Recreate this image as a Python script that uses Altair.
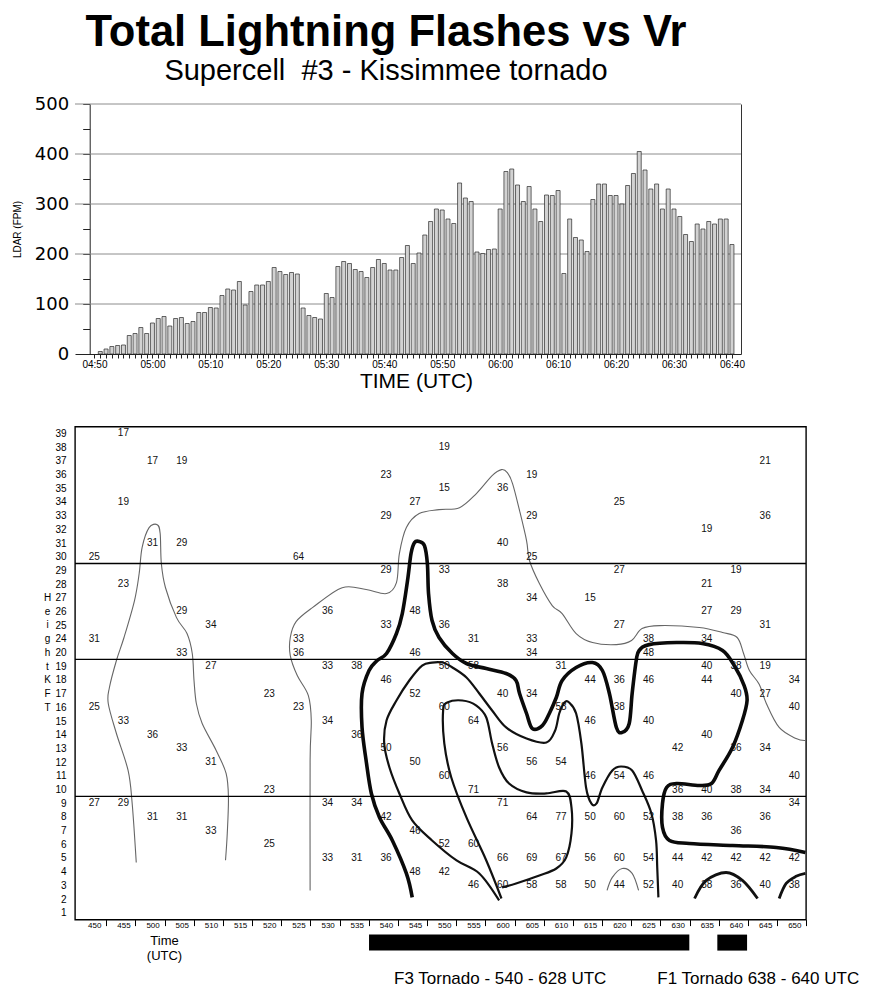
import altair as alt
import pandas as pd

TITLE = "Total Lightning Flashes vs Vr"
SUBTITLE = "Supercell\u00a0 #3 - Kissimmee tornado"

# ---------------- top panel: LDAR flash rate, one bar per minute ----------------
LDAR_FIRST_MINUTE = 4 * 60 + 51          # 04:51
LDAR_FPM = [5, 10, 15, 17, 18, 37, 41, 53, 41,
            62, 71, 75, 56, 71, 73, 61, 65, 83, 83,
            93, 92, 117, 130, 128, 145, 98, 125, 138, 138,
            145, 173, 165, 159, 163, 160, 92, 77, 73, 70,
            121, 113, 175, 185, 181, 169, 165, 153, 173, 189,
            181, 168, 168, 193, 217, 181, 202, 238, 265, 290,
            288, 270, 261, 342, 312, 305, 204, 201, 209, 210,
            290, 365, 370, 338, 305, 335, 290, 265, 318, 317,
            327, 161, 270, 233, 228, 205, 309, 340, 340, 317,
            317, 300, 337, 361, 405, 368, 330, 340, 290, 330,
            290, 275, 239, 225, 260, 250, 265, 260, 270, 270,
            219]
FPM_GRID = [100, 200, 300, 400, 500]

# ---------------- bottom panel: Vr time-height section ----------------
ROW_LABELS = list(range(1, 21)) + list(range(24, 40))      # printed height rows (kft)
DECADE_BREAKS = [(9, 10), (19, 20), (29, 30)]

VR_COLUMN_TIMES = [450, 455, 500, 505, 510, 520, 525, 530, 535, 540, 545, 550,
                   555, 600, 605, 610, 615, 620, 625, 630, 635, 640, 645, 650]
VR_COLUMN_HEIGHTS = [
    [30, 24, 16, 9], [39, 34, 28, 15, 9], [37, 31, 14, 8], [37, 31, 26, 20, 13, 8],
    [25, 19, 12, 7], [17, 10, 6], [30, 24, 20, 16], [26, 19, 15, 9, 5], [19, 14, 9, 5],
    [36, 33, 29, 25, 18, 13, 8, 5], [34, 26, 20, 17, 12, 7, 4],
    [38, 35, 29, 25, 19, 16, 11, 6, 4], [24, 19, 15, 10, 6, 3],
    [35, 31, 28, 17, 13, 9, 5, 3], [36, 33, 30, 27, 24, 20, 17, 12, 8, 5, 3],
    [19, 16, 12, 8, 5, 3], [27, 18, 15, 11, 8, 5, 3], [34, 29, 25, 18, 16, 11, 8, 5, 3],
    [24, 20, 18, 15, 11, 8, 5, 3], [13, 10, 8, 5, 3],
    [32, 28, 26, 24, 19, 18, 14, 10, 8, 5, 3], [29, 26, 19, 17, 13, 10, 7, 5, 3],
    [37, 33, 25, 19, 17, 13, 10, 8, 5, 3], [18, 16, 11, 9, 5, 3]]
VR_COLUMN_VALUES = [
    [25, 31, 25, 27], [17, 19, 23, 33, 29], [17, 31, 36, 31], [19, 29, 29, 33, 33, 31],
    [34, 27, 31, 33], [23, 23, 25], [64, 33, 36, 23], [36, 33, 34, 34, 33], [38, 36, 34, 31],
    [23, 29, 29, 33, 46, 50, 42, 36], [27, 48, 46, 52, 50, 46, 48],
    [19, 15, 33, 36, 50, 60, 60, 52, 42], [31, 58, 64, 71, 60, 46],
    [36, 40, 38, 40, 56, 71, 66, 60], [19, 29, 25, 34, 33, 34, 34, 56, 64, 69, 58],
    [31, 58, 54, 77, 67, 58], [15, 44, 46, 46, 50, 56, 50], [25, 27, 27, 36, 38, 54, 60, 60, 44],
    [38, 48, 46, 40, 46, 52, 54, 52], [42, 36, 38, 44, 40],
    [19, 21, 27, 34, 40, 44, 40, 40, 36, 42, 38], [19, 29, 38, 40, 36, 38, 36, 42, 36],
    [21, 36, 31, 19, 27, 34, 34, 36, 42, 40], [34, 40, 40, 34, 42, 38]]

# contour traces: time in minutes after 00 UTC, height in row position (1 = bottom row)
THIN_A_T = [297.2, 296.5, 295.8, 293.8, 292.4, 292.6, 293.8, 295.1, 296.9, 297.7, 298.2, 299.4, 300.8, 301.3,
            301.5, 302.2, 304.1, 305.9, 306.8, 307.1, 307.5, 308.5, 310.9, 312.6, 313.0, 312.8, 312.5]
THIN_A_P = [4.67, 8.98, 11.39, 14.09, 16.28, 17.45, 19.42, 21.1, 23.8, 25.77, 27.67, 29.12, 29.34, 28.69,
            26.5, 24.75, 22.55, 21.39, 19.93, 17.96, 16.28, 14.82, 12.85, 11.17, 9.42, 6.8, 4.83]
THIN_B_T = [327.0, 327.0, 327.2, 326.7, 324.8, 323.6, 323.6, 324.6, 327.4, 332.5, 336.6, 340.1, 341.8, 342.3,
            343.5, 345.7, 349.1, 352.6, 355.5, 358.2, 359.8, 360.8, 361.7, 362.9, 364.1, 364.6, 366.3, 368.5,
            370.2, 372.6, 375.4, 379.5, 382.1, 383.9, 386.9, 393.7, 397.7, 400.2, 401.3, 402.3, 404.0, 405.2,
            407.4, 410.3, 411.9]
THIN_B_P = [2.63, 12.12, 15.04, 16.86, 18.32, 19.78, 21.1, 22.26, 23.28, 24.74, 24.6, 24.31, 25.11, 27.23,
            29.13, 30.15, 30.44, 30.58, 31.61, 32.92, 33.36, 33.14, 32.34, 30.37, 28.18, 26.72, 25.04, 23.43,
            22.85, 21.39, 20.73, 20.58, 20.88, 21.75, 21.97, 21.83, 21.46, 21.1, 19.93, 18.69, 17.67, 16.28,
            14.53, 13.72, 13.58]
THIN_F_T = [377.9, 378.8, 380.5, 382.2, 383.3]
THIN_F_P = [2.63, 3.58, 4.23, 3.87, 2.63]
THICK_C_T = [344.5, 343.5, 341.1, 338.9, 337.5, 336.6, 335.9, 335.9, 337.1, 338.5, 340.1, 341.8, 342.8, 343.7,
             344.3, 344.9, 345.7, 346.6, 347.1, 347.3, 347.9, 349.1, 351.4, 353.8, 357.2, 360.6, 362.3, 362.9,
             364.1, 365.1, 366.8, 368.0, 369.2, 370.2, 372.6, 375.4, 377.1, 378.3, 379.5, 380.5, 381.7, 382.2,
             382.9, 383.4, 385.1, 389.8, 394.2, 397.7, 399.7, 401.4, 401.9, 401.1, 399.4, 397.1, 395.8, 393.7,
             389.8, 388.1, 387.4, 387.4, 388.6, 392.0, 399.4, 406.9, 411.9]
THICK_C_P = [2.12, 3.87, 6.28, 7.96, 9.71, 12.12, 14.53, 17.01, 18.69, 19.42, 19.93, 21.39, 22.85, 25.26,
             27.23, 28.03, 28.11, 27.81, 26.5, 24.31, 22.34, 21.1, 19.93, 19.2, 18.83, 18.47, 17.96, 17.01,
             15.55, 14.45, 14.67, 15.55, 16.72, 17.96, 18.91, 19.27, 18.69, 17.01, 14.53, 14.17, 14.82, 17.01,
             19.42, 20.15, 20.58, 20.73, 20.66, 20.15, 19.05, 17.59, 16.5, 15.04, 13.07, 11.39, 10.44, 10.29,
             10.44, 10.15, 8.98, 7.23, 6.28, 6.06, 5.91, 5.77, 5.4]
MID_D_T = [359.4, 356.0, 352.1, 347.9, 344.5, 342.3, 340.6, 339.7, 340.1, 341.8, 344.0, 346.2, 347.9, 349.7,
           351.4, 353.8, 356.0, 358.2, 360.6, 364.1, 367.5, 369.0, 369.7, 370.6, 371.4, 372.6, 373.5, 374.3,
           375.2, 376.1, 377.1, 378.8, 380.3, 382.2, 383.9, 385.5, 386.3, 386.5, 386.7]
MID_D_P = [1.9, 3.87, 4.82, 6.28, 7.74, 9.71, 11.61, 13.36, 15.04, 16.5, 17.96, 19.05, 19.27, 19.27,
           18.91, 18.18, 17.01, 15.77, 14.53, 13.72, 13.43, 14.31, 15.55, 16.35, 16.35, 15.55, 13.36, 10.15,
           8.98, 8.98, 10.15, 11.39, 11.68, 11.39, 9.93, 8.25, 6.28, 4.31, 2.12]
MID_E_T = [359.8, 357.2, 353.8, 351.2, 350.0, 349.8, 350.5, 353.1, 355.5, 357.2, 358.2, 359.4, 361.1, 364.1,
           367.5, 370.9, 371.8, 371.8, 370.9, 369.2, 366.3, 362.3, 359.9]
MID_E_P = [2.04, 4.82, 7.96, 10.88, 13.36, 15.77, 16.35, 16.5, 16.13, 15.26, 13.36, 11.61, 10.44, 9.79,
           9.71, 9.86, 8.69, 6.79, 5.04, 4.23, 3.72, 3.14, 2.85]
ARC_G_T = [392.9, 394.9, 398.3, 401.1, 403.7]
ARC_G_P = [2.04, 3.36, 3.94, 3.36, 2.04]
ARC_H_T = [407.4, 408.6, 410.3, 411.9]
ARC_H_P = [2.04, 3.14, 3.66, 3.88]

TORNADO_LABELS = ["F3 Tornado - 540 - 628 UTC", "F1 Tornado 638 - 640 UTC"]
TORNADO_START = [337.1, 396.8]
TORNADO_END = [392.0, 401.9]

HEIGHT_TITLE = ["H", "e", "i", "g", "h", "t", " ", "K", "F", "T"]

FONT = "Liberation Sans"

# ---------------- build top panel ----------------
top_df = pd.DataFrame({"t": [LDAR_FIRST_MINUTE + i for i in range(len(LDAR_FPM))], "fpm": LDAR_FPM})
x_top = alt.Scale(domain=[287.5, 400.7], nice=False, zero=False)
y_top = alt.Scale(domain=[0, 500], nice=False)
hhmm = ("datum.value % 10 == 0 ? ('0' + floor(datum.value/60) + ':' + "
        "(datum.value % 60 < 10 ? '0' : '') + (datum.value % 60)) : ''")

bars = alt.Chart(top_df).mark_bar(size=4, fill="#d2d2d2", stroke="#2a2a2a", strokeWidth=0.7).encode(
    x=alt.X("t:Q", scale=x_top, axis=alt.Axis(
        values=list(range(290, 401)), labelExpr=hhmm, labelFontSize=10, labelFont=FONT,
        tickSize=4, tickColor="#222", domainColor="#222", labelPadding=1, labelFlush=False,
        labelOverlap=False,
        title="TIME (UTC)", titleFontSize=21, titleFontWeight="normal", titleFont=FONT,
        titlePadding=1, titleX=341, grid=False)),
    y=alt.Y("fpm:Q", scale=y_top, axis=alt.Axis(
        values=list(range(0, 501, 50)), labelExpr="datum.value % 100 == 0 ? datum.label : ''",
        offset=-14.7, tickSize=7, labelPadding=14, labelFont="DejaVu Sans", labelFontSize=18,
        domainColor="#222", tickColor="#222", grid=False, orient="left",
        title="LDAR (FPM)", titleFontSize=10, titleFontWeight="normal", titleFont=FONT, titlePadding=12)),
)
grid = alt.Chart(pd.DataFrame({"fpm": FPM_GRID})).mark_rule(color="#8c8c8c", strokeWidth=1).encode(
    y=alt.Y("fpm:Q", scale=y_top, axis=alt.Axis(orient="right", labels=False, ticks=False,
                                                title=None, grid=False, domainColor="#333")))
top = alt.layer(grid, bars).resolve_axis(y="independent").properties(
    width=666, height=250, view=alt.ViewBackground(stroke=None),
    title=alt.TitleParams(text=TITLE, subtitle=SUBTITLE, font=FONT, fontSize=43.5, fontWeight="bold",
                          subtitleFont=FONT, subtitleFontSize=29, subtitleColor="black", color="black",
                          anchor="middle", frame="group", dx=-22, offset=8, subtitlePadding=2))

# ---------------- build bottom panel ----------------
def row_pos(h):
    return ROW_LABELS.index(h) + 1

recs = []
for t_lbl, hs, vs in zip(VR_COLUMN_TIMES, VR_COLUMN_HEIGHTS, VR_COLUMN_VALUES):
    minutes = (t_lbl // 100) * 60 + t_lbl % 100
    for h, v in zip(hs, vs):
        recs.append({"t": minutes, "pos": row_pos(h), "v": str(v)})
vr_df = pd.DataFrame(recs)

x_bot = alt.Scale(domain=[286.7, 412.0], nice=False, zero=False)
y_bot = alt.Scale(domain=[0.5, len(ROW_LABELS) + 0.5], nice=False, zero=False)
row_expr = "[" + ",".join(f"'{r}'" for r in ROW_LABELS) + "][datum.value - 1]"

x_axis_bot = alt.Axis(values=list(range(290, 411, 5)),
                      labelExpr="floor(datum.value/60)*100 + datum.value % 60",
                      labelFontSize=8, labelFont=FONT, tickSize=6, tickColor="black",
                      tickOffset=12, labelOffset=-12, labelPadding=-4, domain=False, grid=False,
                      title=["Time", "(UTC)"], titleFontSize=13, titleFontWeight="normal", titleFont=FONT,
                      titleX=89, titleY=15, titleBaseline="top", titleLineHeight=15, titleAlign="center")
y_axis_bot = alt.Axis(values=list(range(1, len(ROW_LABELS) + 1)), labelExpr=row_expr,
                      labelFontSize=10, labelFont=FONT, ticks=False, labelPadding=9, domain=False, grid=False,
                      title=HEIGHT_TITLE, titleAngle=0, titleFontSize=10, titleFontWeight="normal",
                      titleFont=FONT, titleX=-28, titleY=166, titleBaseline="top", titleLineHeight=13.7,
                      titleAlign="center")


def trace(ts, ps, color, width):
    d = pd.DataFrame({"t": ts, "pos": ps, "i": range(len(ts))})
    return alt.Chart(d).mark_line(interpolate="cardinal", color=color, strokeWidth=width).encode(
        x=alt.X("t:Q", scale=x_bot, axis=x_axis_bot),
        y=alt.Y("pos:Q", scale=y_bot, axis=y_axis_bot),
        order="i:Q")

lines = [
    trace(THIN_A_T, THIN_A_P, "#666666", 1.1),
    trace(THIN_B_T, THIN_B_P, "#666666", 1.1),
    trace(THIN_F_T, THIN_F_P, "#666666", 1.1),
    trace(MID_D_T, MID_D_P, "#111111", 2.2),
    trace(MID_E_T, MID_E_P, "#111111", 2.2),
    trace(THICK_C_T, THICK_C_P, "#0a0a0a", 3.6),
    trace(ARC_G_T, ARC_G_P, "#111111", 2.8),
    trace(ARC_H_T, ARC_H_P, "#111111", 2.8),
]

breaks_df = pd.DataFrame({"pos": [(row_pos(a) + row_pos(b)) / 2 for a, b in DECADE_BREAKS]})
breaks = alt.Chart(breaks_df).mark_rule(color="black", strokeWidth=1.4).encode(
    y=alt.Y("pos:Q", scale=y_bot, axis=y_axis_bot))

numbers = alt.Chart(vr_df).mark_text(font=FONT, fontSize=10, color="#111111").encode(
    x=alt.X("t:Q", scale=x_bot, axis=x_axis_bot),
    y=alt.Y("pos:Q", scale=y_bot, axis=y_axis_bot),
    text="v:N")

bottom = alt.layer(*lines, breaks, numbers).properties(
    width=731, height=493, view=alt.ViewBackground(stroke="black", strokeWidth=1.4))

# ---------------- tornado strip ----------------
tor_df = pd.DataFrame({"label": TORNADO_LABELS, "start": TORNADO_START, "end": TORNADO_END})
tor_df["mid"] = (tor_df["start"] + tor_df["end"]) / 2
rects = alt.Chart(tor_df).mark_rect(color="black").encode(
    x=alt.X("start:Q", scale=x_bot, axis=None), x2="end:Q")
txt_f3 = alt.Chart(tor_df.iloc[[0]]).mark_text(font=FONT, fontSize=17, dx=-29, baseline="middle").encode(
    x=alt.X("mid:Q", scale=x_bot, axis=None), y=alt.value(44), text="label:N")
txt_f1 = alt.Chart(tor_df.iloc[[1]]).mark_text(font=FONT, fontSize=17, dx=26, baseline="middle").encode(
    x=alt.X("mid:Q", scale=x_bot, axis=None), y=alt.value(44), text="label:N")
strip = alt.layer(rects, txt_f3, txt_f1).properties(width=731, height=16, view=alt.ViewBackground(stroke=None))

lower = alt.vconcat(bottom, strip, spacing=15, bounds="flush")
chart = alt.vconcat(top, lower, spacing=72.6, bounds="flush").properties(
    padding={"left": 4, "top": 2, "right": 0, "bottom": 0},
).configure(font=FONT).configure_axis(labelColor="black", titleColor="black")

chart.save("out.html", embed_options={"renderer": "svg", "actions": False})
